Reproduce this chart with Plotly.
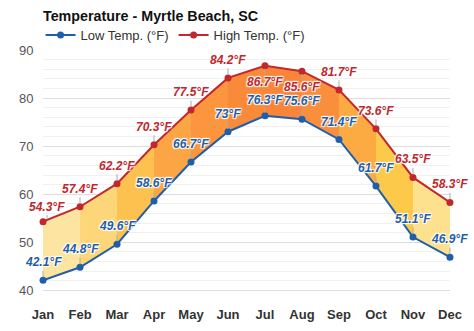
import plotly.graph_objects as go

months = ["Jan", "Feb", "Mar", "Apr", "May", "Jun", "Jul", "Aug", "Sep", "Oct", "Nov", "Dec"]
low_temp = [42.1, 44.8, 49.6, 58.6, 66.7, 73.0, 76.3, 75.6, 71.4, 61.7, 51.1, 46.9]
high_temp = [54.3, 57.4, 62.2, 70.3, 77.5, 84.2, 86.7, 85.6, 81.7, 73.6, 63.5, 58.3]
low_labels = ["42.1°F", "44.8°F", "49.6°F", "58.6°F", "66.7°F", "73°F", "76.3°F", "75.6°F", "71.4°F", "61.7°F", "51.1°F", "46.9°F"]
high_labels = ["54.3°F", "57.4°F", "62.2°F", "70.3°F", "77.5°F", "84.2°F", "86.7°F", "85.6°F", "81.7°F", "73.6°F", "63.5°F", "58.3°F"]
band_colors = ["#fde4a0", "#fdd679", "#fdc150", "#fca545", "#fb963f", "#f98a3a",
               "#f8853a", "#f98e3d", "#fcab43", "#fdc94a", "#fde18e"]
high_label_offset = [-15, -18, -18, -18, -18, -18, 16, 16, -18, -18, -18, -18]
low_label_offset = [-18, -18, -18, -18, -18, -18, -16, -18, -17, -18, -18, -18]

LOW_C = "#1f5ea8"
HIGH_C = "#c1272d"
x = list(range(len(months)))

fig = go.Figure()
for i in range(len(months) - 1):
    fig.add_trace(go.Scatter(
        x=[x[i], x[i + 1], x[i + 1], x[i], x[i]],
        y=[low_temp[i], low_temp[i + 1], high_temp[i + 1], high_temp[i], low_temp[i]],
        fill="toself", fillcolor=band_colors[i], mode="lines",
        line=dict(width=0, color=band_colors[i]), hoverinfo="skip", showlegend=False))

fig.add_trace(go.Scatter(x=x, y=low_temp, name="Low Temp. (°F)", mode="lines+markers",
                         line=dict(color=LOW_C, width=2), marker=dict(size=7, color=LOW_C),
                         cliponaxis=False))
fig.add_trace(go.Scatter(x=x, y=high_temp, name="High Temp. (°F)", mode="lines+markers",
                         line=dict(color=HIGH_C, width=2), marker=dict(size=7, color=HIGH_C),
                         cliponaxis=False))

shadow = "1px 1px 1px #fff, -1px -1px 1px #fff, 1px -1px 1px #fff, -1px 1px 1px #fff"
for i in x:
    for kind, vals, labs, offs, col in (("high", high_temp, high_labels, high_label_offset, HIGH_C),
                                        ("low", low_temp, low_labels, low_label_offset, LOW_C)):
        fig.add_annotation(x=i, y=vals[i], text="<b><i>%s</i></b>" % labs[i],
                           showarrow=True, arrowhead=0, arrowwidth=1, arrowcolor="#aaaaaa",
                           ax=0, ay=offs[i], standoff=3,
                           xshift=4 if (i == 0 and kind == "high") else 0,
                           font=dict(family="Liberation Sans, Arial", size=12, color=col,
                                     shadow=shadow))

fig.update_layout(
    width=474, height=331,
    margin=dict(l=43, r=24, t=50, b=31, autoexpand=False),
    paper_bgcolor="white", plot_bgcolor="white",
    font=dict(family="Liberation Sans, Arial", color="#333"),
    title=dict(text="<b>Temperature - Myrtle Beach, SC</b>", x=43 / 474, xanchor="left",
               y=1 - 16 / 331, yanchor="middle", font=dict(size=14.3, color="#111")),
    legend=dict(orientation="h", x=-0.006, xanchor="left", y=1 + 15 / 250, yanchor="middle",
                font=dict(size=13, color="#333"), bgcolor="rgba(0,0,0,0)"),
    xaxis=dict(range=[-0.001, 11.001], tickvals=x, ticktext=["<b>%s</b>" % m for m in months],
               showgrid=False, automargin=False,
               zeroline=False, showline=False, ticks="outside", ticklen=2, tickcolor="rgba(0,0,0,0)",
               tickfont=dict(size=13, color="#333", family="Liberation Sans, Arial"),
               fixedrange=True),
    yaxis=dict(range=[38, 90], tickvals=[40, 50, 60, 70, 80, 90], showgrid=True, automargin=False,
               gridcolor="#dcdcdc", gridwidth=1, zeroline=False, showline=False,
               ticks="outside", ticklen=6, tickcolor="rgba(0,0,0,0)",
               tickfont=dict(size=13, color="#555"),
               minor=dict(dtick=2, showgrid=True, gridcolor="#f0f0f0", gridwidth=1),
               fixedrange=True),
)
fig.write_html("out.html")
